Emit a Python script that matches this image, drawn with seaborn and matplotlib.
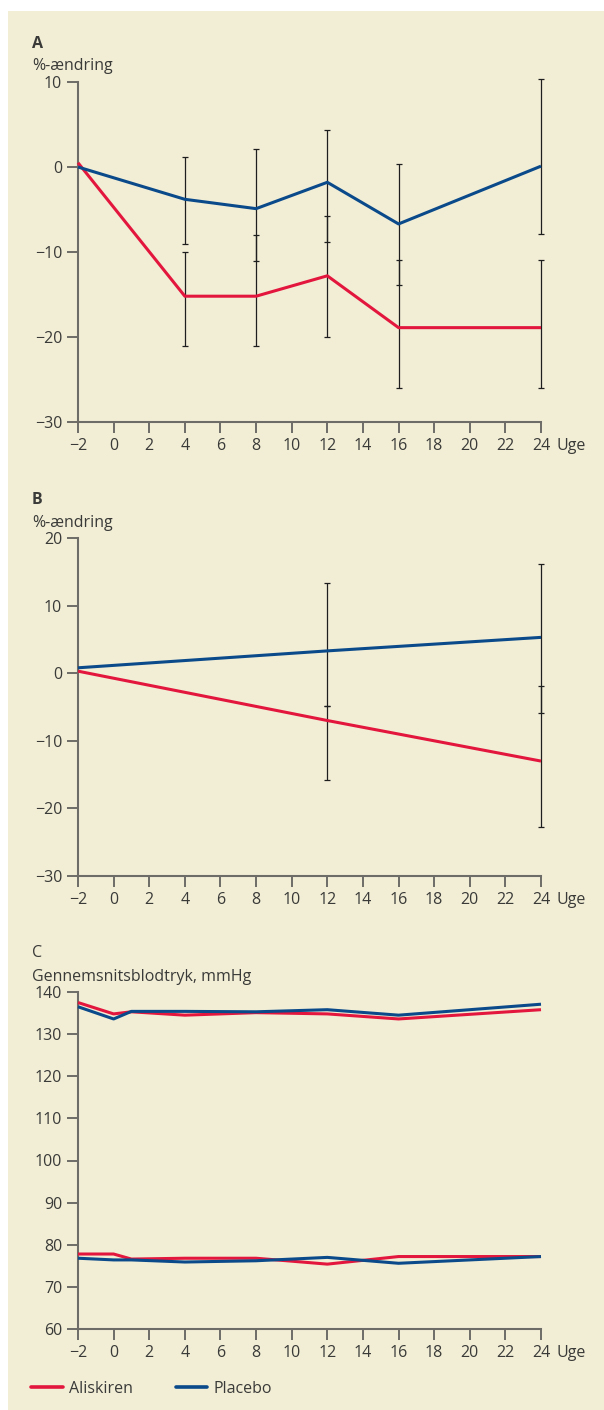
import matplotlib
matplotlib.use('Agg')
import matplotlib.pyplot as plt
import seaborn as sns
import pandas as pd
from matplotlib.patches import Rectangle
from matplotlib.lines import Line2D

# ---------------- data ----------------
weeks_A = [-2, 4, 8, 12, 16, 24]
aliskiren_A = [0.5, -15.2, -15.2, -12.8, -18.9, -18.9]
placebo_A = [0.0, -3.8, -4.9, -1.8, -6.7, 0.1]
err_weeks_A = [4, 8, 12, 16, 24]
aliskiren_A_hi = [-10.0, -8.0, -5.8, -10.9, -10.9]
aliskiren_A_lo = [-21.0, -21.0, -20.0, -26.0, -26.0]
placebo_A_hi = [1.2, 2.1, 4.3, 0.3, 10.3]
placebo_A_lo = [-9.0, -11.0, -8.8, -13.9, -7.9]

weeks_B = [-2, 12, 24]
aliskiren_B = [0.3, -7.0, -13.0]
placebo_B = [0.8, 3.3, 5.3]
err_weeks_B = [12, 24]
aliskiren_B_hi = [-4.9, -1.9]
aliskiren_B_lo = [-15.8, -22.8]
placebo_B_hi = [13.3, 16.2]
placebo_B_lo = [-4.9, -5.9]

weeks_C = [-2, 0, 1, 4, 8, 12, 16, 24]
aliskiren_C_upper = [137.5, 134.8, 135.3, 134.5, 135.1, 134.8, 133.6, 135.8]
placebo_C_upper = [136.5, 133.6, 135.4, 135.4, 135.3, 135.8, 134.5, 137.1]
aliskiren_C_lower = [77.8, 77.8, 76.6, 76.8, 76.8, 75.4, 77.2, 77.2]
placebo_C_lower = [76.8, 76.4, 76.4, 75.9, 76.2, 77.0, 75.6, 77.2]

x_ticks = list(range(-2, 25, 2))
yticks_A = [-30, -20, -10, 0, 10]
yticks_B = [-30, -20, -10, 0, 10, 20]
yticks_C = [60, 70, 80, 90, 100, 110, 120, 130, 140]
groups = ['Aliskiren', 'Placebo']

# ---------------- style ----------------
RED = '#E3173E'
BLUE = '#0B4A8A'
BG = '#F2EED6'
AXC = '#6E6C66'
TXT = '#3A3A38'
FS = 11.5

sns.set_theme(style='ticks')
plt.rcParams['font.family'] = ['Open Sans', 'DejaVu Sans']
plt.rcParams['text.color'] = TXT
plt.rcParams['axes.unicode_minus'] = True

W, H = 604, 1410
fig = plt.figure(figsize=(W / 100, H / 100), dpi=100)
fig.patch.set_facecolor('white')
fig.patches.append(Rectangle((8 / W, 0), 1, 1 - 11 / H, transform=fig.transFigure,
                             facecolor=BG, edgecolor='none', zorder=-10))

palette = {'Aliskiren': RED, 'Placebo': BLUE}


def make_ax(top_px, bot_px):
    ax = fig.add_axes([78 / W, 1 - bot_px / H, (541 - 78) / W, (bot_px - top_px) / H])
    ax.set_facecolor('none')
    return ax


def style(ax, ylim, yticks):
    ax.set_xlim(-2, 24)
    ax.set_ylim(*ylim)
    ax.set_xticks(x_ticks)
    ax.set_yticks(yticks)
    for s in ['top', 'right']:
        ax.spines[s].set_visible(False)
    for s in ['left', 'bottom']:
        ax.spines[s].set_color(AXC)
        ax.spines[s].set_linewidth(1.5)
    ax.tick_params(axis='both', direction='out', length=8, width=1.4, color=AXC,
                   labelsize=FS, labelcolor=TXT, pad=3.5)
    ax.set_xlabel('')
    ax.set_ylabel('')
    ax.annotate('Uge', xy=(1, 0), xycoords='axes fraction', xytext=(11.5, -11.5),
                textcoords='offset points', ha='left', va='top', fontsize=FS, color=TXT)


def draw_err(ax, xs, hi, lo):
    mid = [(h + l) / 2 for h, l in zip(hi, lo)]
    half = [(h - l) / 2 for h, l in zip(hi, lo)]
    cont = ax.errorbar(xs, mid, yerr=half, fmt='none', ecolor='#1E1E1E', elinewidth=0.9,
                       capsize=2.2, capthick=0.9, zorder=2)
    for art in cont.get_children():
        art.set_clip_on(False)


# ---------------- Panel A ----------------
axA = make_ax(82, 422)
dfA = pd.DataFrame({'week': weeks_A * 2,
                    'value': aliskiren_A + placebo_A,
                    'group': ['Aliskiren'] * len(weeks_A) + ['Placebo'] * len(weeks_A)})
draw_err(axA, err_weeks_A, aliskiren_A_hi, aliskiren_A_lo)
draw_err(axA, err_weeks_A, placebo_A_hi, placebo_A_lo)
sns.lineplot(data=dfA, x='week', y='value', hue='group', palette=palette, ax=axA,
             legend=False, linewidth=2.2, estimator=None, zorder=3)
style(axA, (-30, 10), yticks_A)

# ---------------- Panel B ----------------
axB = make_ax(538, 876)
dfB = pd.DataFrame({'week': weeks_B * 2,
                    'value': aliskiren_B + placebo_B,
                    'group': ['Aliskiren'] * len(weeks_B) + ['Placebo'] * len(weeks_B)})
draw_err(axB, err_weeks_B, aliskiren_B_hi, aliskiren_B_lo)
draw_err(axB, err_weeks_B, placebo_B_hi, placebo_B_lo)
sns.lineplot(data=dfB, x='week', y='value', hue='group', palette=palette, ax=axB,
             legend=False, linewidth=2.2, estimator=None, zorder=3)
style(axB, (-30, 20), yticks_B)

# ---------------- Panel C ----------------
axC = make_ax(992, 1329)
n = len(weeks_C)
dfC = pd.DataFrame({'week': weeks_C * 4,
                    'value': aliskiren_C_upper + aliskiren_C_lower + placebo_C_upper + placebo_C_lower,
                    'group': ['Aliskiren'] * (2 * n) + ['Placebo'] * (2 * n),
                    'measure': (['upper'] * n + ['lower'] * n) * 2})
sns.lineplot(data=dfC, x='week', y='value', hue='group', units='measure', palette=palette,
             ax=axC, legend=False, linewidth=2.2, estimator=None, zorder=3)
style(axC, (60, 140), yticks_C)

for ax in (axA, axB, axC):
    for ln in ax.get_lines():
        ln.set_clip_on(False)
        ln.set_solid_capstyle('butt')

# ---------------- labels ----------------
fig.text(32 / W, 1 - 48.5 / H, 'A', fontsize=FS, fontweight='bold', color=TXT, va='baseline')
fig.text(32 / W, 1 - 70 / H, '%-ændring', fontsize=FS, color=TXT, va='baseline')
fig.text(32 / W, 1 - 504 / H, 'B', fontsize=FS, fontweight='bold', color=TXT, va='baseline')
fig.text(32 / W, 1 - 527 / H, '%-ændring', fontsize=FS, color=TXT, va='baseline')
fig.text(32 / W, 1 - 957 / H, 'C', fontsize=FS, color=TXT, va='baseline')
fig.text(32 / W, 1 - 981 / H, 'Gennemsnitsblodtryk, mmHg', fontsize=FS, color=TXT, va='baseline')

# ---------------- legend ----------------
handles = [Line2D([], [], color=palette[g], lw=2.6) for g in groups]
fig.legend(handles=handles, labels=groups, loc='center left',
           bbox_to_anchor=(31 / W, 1 - 1389 / H), ncol=2, frameon=False,
           fontsize=FS, handlelength=2.0, handletextpad=0.35, columnspacing=2.7,
           borderpad=0, borderaxespad=0, labelcolor=TXT)

fig.savefig('out.png', dpi=100, facecolor=fig.get_facecolor())
